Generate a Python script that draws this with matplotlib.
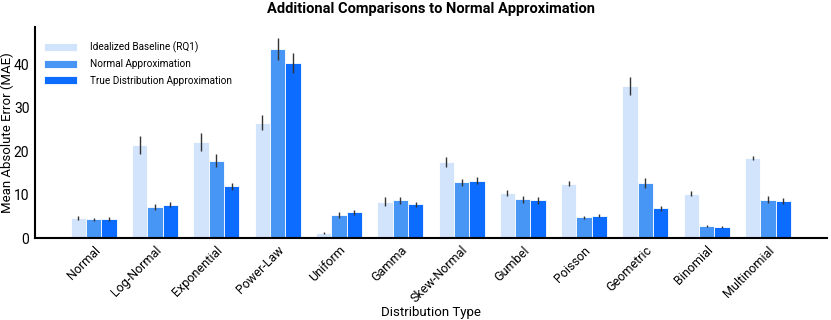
import matplotlib.pyplot as plt
import numpy as np

plt.rcParams['font.family'] = ['Roboto', 'DejaVu Sans']

categories = ['Normal', 'Log-Normal', 'Exponential', 'Power-Law', 'Uniform', 'Gamma',
              'Skew-Normal', 'Gumbel', 'Poisson', 'Geometric', 'Binomial', 'Multinomial']

# mean absolute error per method
baseline = [4.6, 21.5, 22.1, 26.6, 1.2, 8.4, 17.6, 10.4, 12.5, 35.1, 10.2, 18.5]
normal_approx = [4.3, 7.2, 17.8, 43.6, 5.3, 8.7, 12.9, 9.0, 4.8, 12.7, 2.8, 8.8]
true_approx = [4.4, 7.7, 12.0, 40.3, 5.9, 7.8, 13.2, 8.7, 5.2, 6.9, 2.5, 8.5]

# error bar half-widths
baseline_err = [0.5, 2.0, 2.1, 1.7, 0.3, 1.0, 1.2, 0.6, 0.6, 2.0, 0.6, 0.5]
normal_err = [0.4, 0.7, 1.5, 2.6, 0.6, 0.8, 0.8, 0.8, 0.4, 1.1, 0.2, 0.8]
true_err = [0.5, 0.6, 0.8, 2.3, 0.5, 0.6, 0.8, 0.8, 0.3, 0.6, 0.2, 0.7]

labels = ['Idealized Baseline (RQ1)', 'Normal Approximation', 'True Distribution Approximation']
colors = ['#d2e3fc', '#4795f4', '#0b6cff']

fig = plt.figure(figsize=(8.31, 3.2), dpi=100)
ax = fig.add_axes([0.042, 0.256, 0.953, 0.66])

x = np.arange(len(categories))
w = 0.25
series = [(baseline, baseline_err), (normal_approx, normal_err), (true_approx, true_err)]
for i, (vals, errs) in enumerate(series):
    ax.bar(x + (i - 1) * w, vals, w, yerr=errs, color=colors[i], edgecolor='white',
           linewidth=0.6, label=labels[i], error_kw=dict(ecolor='#333333', elinewidth=1.0, capsize=0))

ax.set_xlim(-0.96, 11.96)
ax.set_ylim(0, 48.7)
ax.set_yticks([0, 10, 20, 30, 40])
ax.set_xticks(x)
ax.set_xticklabels(categories, rotation=45, ha='right', rotation_mode='anchor', fontsize=9)
ax.tick_params(axis='y', labelsize=10, length=0, pad=4)
ax.tick_params(axis='x', length=0, pad=4)
for s in ['top', 'right']:
    ax.spines[s].set_visible(False)
ax.spines['left'].set_linewidth(1.5)
ax.spines['bottom'].set_linewidth(1.5)

ax.set_ylabel('Mean Absolute Error (MAE)', fontsize=9.5)
ax.yaxis.set_label_coords(-0.026, 0.5)
ax.set_xlabel('Distribution Type', fontsize=9.5, labelpad=0)
ax.set_title('Additional Comparisons to Normal Approximation', fontsize=10.5, fontweight='bold', pad=10)

ax.legend(loc='upper left', bbox_to_anchor=(0.0, 0.975), frameon=False, fontsize=7.2,
          handlelength=3.3, handleheight=0.9, handletextpad=1.3, labelspacing=0.65)

fig.savefig('out.png', dpi=100)
